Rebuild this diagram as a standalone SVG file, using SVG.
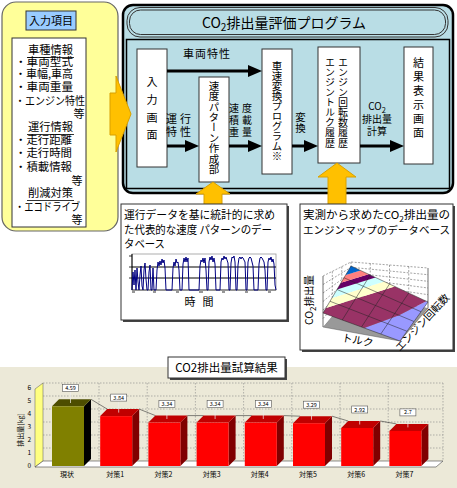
<svg xmlns="http://www.w3.org/2000/svg" width="457" height="488" viewBox="0 0 457 488">
<style>
text { font-family: "Noto Sans CJK JP", "Noto Sans", sans-serif; fill: #000; }
.f11 { font-size: 11px; }
.f10 { font-size: 10.5px; }
.st { font-size: 10px; }
.vt { writing-mode: vertical-rl; font-size: 10.5px; }
.node { fill: #fff; stroke: #333; stroke-width: 1; }
.arr { stroke: #000; stroke-width: 3; fill: none; marker-end: url(#ah); }
.gold { fill: #FFC000; stroke: #D9A000; stroke-width: 1; }
.tbox { fill: #fff; stroke: #333; stroke-width: 1; }
.shadow { fill: #444; }
.dash { stroke: #666; stroke-width: 0.6; stroke-dasharray: 2 1.5; fill: none; }
.grid { stroke: #888; stroke-width: 0.6; stroke-dasharray: 1.5 1.5; fill: none; }
.sgrid { stroke: #222; stroke-width: 0.5; fill: none; }
.lbl { font-size: 5.5px; }
.cat { font-size: 7px; fill: #222; }
.ytk { font-size: 6.5px; fill: #222; }
.vbox { fill: #fff; stroke: #555; stroke-width: 0.6; }
</style>
<defs>
<marker id="ah" viewBox="0 0 14 12" refX="6" refY="6" markerWidth="14" markerHeight="12" markerUnits="userSpaceOnUse" orient="auto">
<path d="M0,0 L14,6 L0,12 z" fill="#000"/>
</marker>
</defs>
<rect x="0" y="0" width="457" height="488" fill="#fff"/>

<!-- Input items panel -->
<g id="panel-input">
<rect x="2" y="2" width="116" height="229" rx="14" fill="#FFFF99" stroke="#666" stroke-width="1.2"/>
<rect x="26" y="11" width="50" height="19" fill="#99CCFF" stroke="#333" stroke-width="1"/>
<text x="51" y="25" class="f11" text-anchor="middle">入力項目</text>
<rect x="12" y="38" width="74" height="189" fill="#fff" stroke="#333" stroke-width="1"/>
<text x="50.5" y="54" class="f11" text-anchor="middle" textLength="45" lengthAdjust="spacingAndGlyphs">車種情報</text>
<line x1="27" y1="57.5" x2="74" y2="57.5" stroke="#000" stroke-width="0.8"/>
<text x="15" y="66" class="f11" textLength="58" lengthAdjust="spacingAndGlyphs">・車両型式</text>
<text x="15" y="78" class="f11" textLength="58" lengthAdjust="spacingAndGlyphs">・車幅,車高</text>
<text x="15" y="91" class="f11" textLength="58" lengthAdjust="spacingAndGlyphs">・車両重量</text>
<text x="15" y="105" class="f11" textLength="70" lengthAdjust="spacingAndGlyphs">・エンジン特性</text>
<text x="79" y="118" class="f11" text-anchor="middle">等</text>
<text x="50.5" y="131" class="f11" text-anchor="middle" textLength="45" lengthAdjust="spacingAndGlyphs">運行情報</text>
<line x1="27" y1="134.5" x2="74" y2="134.5" stroke="#000" stroke-width="0.8"/>
<text x="15" y="144" class="f11" textLength="57" lengthAdjust="spacingAndGlyphs">・走行距離</text>
<text x="15" y="157" class="f11" textLength="57" lengthAdjust="spacingAndGlyphs">・走行時間</text>
<text x="15" y="171" class="f11" textLength="57" lengthAdjust="spacingAndGlyphs">・積載情報</text>
<text x="77" y="185" class="f11" text-anchor="middle">等</text>
<text x="50.5" y="197" class="f11" text-anchor="middle" textLength="45" lengthAdjust="spacingAndGlyphs">削減対策</text>
<line x1="27" y1="200.5" x2="74" y2="200.5" stroke="#000" stroke-width="0.8"/>
<text x="15" y="211" class="f11" textLength="65" lengthAdjust="spacingAndGlyphs">・エコドライブ</text>
<text x="77" y="224" class="f11" text-anchor="middle">等</text>
</g>

<!-- CO2 evaluation program frame -->
<g id="program-frame">
<rect x="123" y="5" width="330" height="188" rx="10" fill="#B9DDE5" stroke="#000" stroke-width="2.5"/>
<rect x="126.5" y="39.5" width="323" height="149" fill="none" stroke="#000" stroke-width="1.5"/>
<rect x="127" y="7.5" width="321" height="29.5" rx="13" fill="#B9DDE5" stroke="#333" stroke-width="1"/>
<rect x="129.5" y="10" width="316" height="24.5" rx="11" fill="none" stroke="#333" stroke-width="1"/>
<text x="284" y="28" font-size="14" text-anchor="middle">CO<tspan font-size="10" dy="3">2</tspan><tspan dy="-3">排出量評価プログラム</tspan></text>
</g>

<!-- big input arrow -->
<g id="arrow-input">
<polygon class="gold" points="110,93 116,93 116,76 131,114 116,152 116,135 110,135"/>
</g>

<!-- nodes -->
<g id="node-input-screen">
<rect class="node" x="137" y="49" width="30" height="118"/>
<text x="152" y="76.5" class="vt" style="font-size:11px;letter-spacing:6.7px">入力画面</text>
</g>
<g id="node-speed-pattern">
<rect class="node" x="199" y="77" width="30" height="105"/>
<text x="214" y="80.5" class="vt" style="letter-spacing:-0.1px">速度パターン作成部</text>
</g>
<g id="node-speed-convert">
<rect class="node" x="262" y="49" width="30" height="125"/>
<text x="277" y="61" class="vt" style="letter-spacing:-0.5px">車速変換プログラム※</text>
</g>
<g id="node-engine-history">
<rect class="node" x="318" y="47" width="42" height="116"/>
<text x="343" y="57" class="vt" style="font-size:10px;letter-spacing:0.1px">エンジン回転数履歴</text>
<text x="330" y="57" class="vt" style="font-size:10px;letter-spacing:0.1px">エンジントルク履歴</text>
</g>
<g id="node-result">
<rect class="node" x="404" y="47" width="29" height="117"/>
<text x="418.5" y="57.5" class="vt" style="font-size:11px;letter-spacing:3px">結果表示画面</text>
</g>

<!-- connectors -->
<g id="connectors">
<line class="arr" x1="167" y1="71" x2="254" y2="71"/>
<line class="arr" x1="167" y1="146" x2="191" y2="146"/>
<line class="arr" x1="229" y1="146" x2="254" y2="146"/>
<line class="arr" x1="292" y1="146" x2="310" y2="146"/>
<line class="arr" x1="360" y1="146" x2="396" y2="146"/>
<text x="207" y="58" class="f11" text-anchor="middle" style="letter-spacing:1px">車両特性</text>
<text x="180" y="123" class="f11" text-anchor="middle" style="letter-spacing:3px">運行</text>
<text x="180" y="136" class="f11" text-anchor="middle" style="letter-spacing:3px">特性</text>
<text x="242" y="112" class="st" text-anchor="middle" style="letter-spacing:3px">速度</text>
<text x="242" y="124" class="st" text-anchor="middle" style="letter-spacing:3px">積載</text>
<text x="242" y="136" class="st" text-anchor="middle" style="letter-spacing:3px">重量</text>
<text x="300.5" y="111.5" class="vt" style="letter-spacing:0.5px">変換</text>
<text x="377" y="110" class="st" text-anchor="middle">CO<tspan font-size="7.5" dy="2.5">2</tspan></text>
<text x="377" y="123" class="st" text-anchor="middle">排出量</text>
<text x="377" y="135" class="st" text-anchor="middle">計算</text>
<polygon class="gold" points="213,182 230,194 222,194 222,206 204,206 204,194 196,194"/>
<polygon class="gold" points="337,163 356,177 346,177 346,206 328,206 328,177 318,177"/>
</g>

<!-- speed pattern database -->
<g id="node-speed-db">
<rect class="shadow" x="123" y="206" width="166" height="116"/>
<rect class="tbox" x="121" y="204" width="166" height="116"/>
<text x="124" y="219" class="f11" textLength="151" lengthAdjust="spacingAndGlyphs">運行データを基に統計的に求め</text>
<text x="124" y="234" class="f11" textLength="148" lengthAdjust="spacingAndGlyphs">た代表的な速度 パターンのデー</text>
<text x="124" y="248" class="f11" textLength="41" lengthAdjust="spacingAndGlyphs">タベース</text>
<rect x="132" y="254" width="144" height="36" fill="#fff" stroke="#999" stroke-width="0.8"/>
<line x1="132" y1="267" x2="276" y2="267" stroke="#000" stroke-width="1"/>
<line x1="132" y1="278" x2="276" y2="278" stroke="#000" stroke-width="1"/>
<line x1="132" y1="254" x2="132" y2="290" stroke="#000" stroke-width="1"/>
<line x1="132" y1="290" x2="276" y2="290" stroke="#333" stroke-width="0.8"/>
<path d="M129,256H132M129,267H132M129,278H132" stroke="#000" stroke-width="0.8"/>
<path d="M132,292h3M153,292h3M176,292h3M199,292h4M222,292h3M245,292h3M268,292h3" stroke="#333" stroke-width="1.2"/>
<polyline fill="none" stroke="#000080" stroke-width="1" points="132,290 133,272 134,285 135,270 136,290 137,268 138,282 139,290 140,275 141,266 142,286 143,290 144,270 145,263 146,279 147,290 148,290 149,272 150,265 151,290 152,290 153,268 154,290 156,290 157,270 158,262 159,266 160,261 161,265 162,259 163,263 164,260 165,268 166,290 168,290 172,290 173,268 174,262 175,266 176,259 177,263 178,262 179,270 180,290 182,290 183,264 184,258 185,262 186,257 187,262 188,258 189,290 199,290 200,266 201,260 202,262 203,258 204,263 205,258 206,270 207,290 208,290 209,262 210,257 211,260 212,256 213,262 214,258 215,264 216,290 220,290 221,262 222,258 223,260 224,256 225,259 226,257 227,260 228,263 229,290 230,290 231,263 232,257 233,258 234,256 235,262 236,290 237,290 238,265 239,258 240,257 241,259 242,257 243,258 244,260 245,262 246,290 247,290 248,262 249,258 250,257 251,258 252,262 253,266 254,290 258,290 259,264 260,258 261,257 262,258 263,260 264,262 265,270 266,290 267,290 268,262 269,258 270,260 271,257 272,262 273,259 274,264 275,285 276,290"/>
<text x="190" y="306" class="f11" text-anchor="middle">時</text>
<text x="208" y="306" class="f11" text-anchor="middle">間</text>
</g>

<!-- engine map database -->
<g id="node-engine-db">
<rect class="shadow" x="302" y="206" width="153" height="146"/>
<rect class="tbox" x="300" y="204" width="153" height="146"/>
<text x="303" y="219" class="f11" textLength="147" lengthAdjust="spacingAndGlyphs">実測から求めたCO<tspan font-size="8" dy="2.5">2</tspan><tspan dy="-2.5">排出量の</tspan></text>
<text x="303" y="234" class="f10" textLength="147" lengthAdjust="spacingAndGlyphs">エンジンマップのデータベース</text>
<polygon points="323,327 400,341 428,308 351,294" fill="#999" stroke="#555" stroke-width="0.5"/>
<polygon points="323,327 351,294 351,262 323,276" fill="#fff"/>
<polygon points="351,262 428,268 428,308 351,294" fill="#fff"/>
<path class="dash" d="M323,284.5L351,267.3M323,293L351,272.7M323,301.5L351,278M323,310L351,283.3M323,318.5L351,288.7M351,267.3L428,274.7M351,272.7L428,281.3M351,278L428,288M351,283.3L428,294.7M351,288.7L428,301.3M332.3,271.4V316.1M341.8,266.6V304.9M370.25,263.5V297.5M389.5,265V301M408.75,266.5V304.5M323,276L351,262L428,268M351,262V294"/>
<path d="M323,276V327M428,268V308" stroke="#333" stroke-width="0.7" fill="none"/>
<polygon points="364.3,328 400,341 428,302 426.2,301.2 399,315.3" fill="#9999FF"/>
<polygon points="323,313 364.3,328 399,315.3 426.2,301.2 394.7,286.5 326,308" fill="#993366"/>
<polygon points="326,308 394.7,286.5 384.3,281.5 332,297.9" fill="#FFFFCC"/>
<polygon points="332,297.9 384.3,281.5 375.5,277.5 337,289.5" fill="#CCFFFF"/>
<polygon points="337,289.5 375.5,277.5 368.5,274.2 341,282.8" fill="#660066"/>
<polygon points="341,282.8 368.5,274.2 360.5,270.4 345.6,275.1" fill="#FF8080"/>
<polygon points="345.6,275.1 360.5,270.4 351,266" fill="#0066CC"/>
<path class="sgrid" d="M342.25,320L356.25,297.5L370.25,275M361.5,327L375.5,305.5L389.5,284M380.75,334L394.75,313.5L408.75,293M330,301.25L368.5,316.25L407,331.25M337,289.5L375.5,305.5L414,321.5M344,277.75L382.5,294.75L421,311.75M323,313L400,341L428,302L351,266Z"/>
<text transform="translate(313,300) rotate(-90)" font-size="10.5" text-anchor="middle">CO<tspan font-size="8" dy="2.5">2</tspan><tspan dy="-2.5">排出量</tspan></text>
<text transform="translate(357,344) rotate(10)" font-size="10.5" text-anchor="middle">トルク</text>
<text transform="translate(425,325) rotate(-47)" font-size="10.5" text-anchor="middle">エンジン回転数</text>
</g>

<!-- result chart -->
<g id="chart-result">
<rect x="0" y="367" width="457" height="121" fill="#ECE9D8"/>
<polygon points="35,467 43,461 43,383 35,389" fill="#FFFF80" stroke="#555" stroke-width="0.5"/>
<path class="grid" d="M43,448H443M43,435H443M43,422H443M43,409H443M43,396H443M43,383H443M443,383V461M99,383V461M147.2,383V461M195.4,383V461M243.6,383V461M291.8,383V461M340,383V461M388.2,383V461"/>
<polygon points="35,467 43,461 443,461 436,467" fill="#fff" stroke="#444" stroke-width="0.6"/>
<g class="ytk" text-anchor="end">
<text x="31" y="468.3">0</text><text x="31" y="455.3">1</text><text x="31" y="442.3">2</text><text x="31" y="429.3">3</text><text x="31" y="416.3">4</text><text x="31" y="403.3">5</text><text x="31" y="390.3">6</text>
</g>
<text transform="translate(23,430) rotate(-90)" font-size="7" text-anchor="middle">排出量[kg]</text>
<path d="M91,399.3L107.2,409.1M139.2,409.1L155.4,415.6M187.4,415.6L203.6,415.6M235.6,415.6L251.8,415.6M283.8,415.6L300,416.2M332,416.2L348.2,421M380.2,421L396.4,423.9" stroke="#333" stroke-width="0.6" fill="none"/>
<!-- bars -->
<polygon points="84,406.3 91,399.3 91,459 84,466" fill="#000"/>
<polygon points="52,406.3 59,399.3 91,399.3 84,406.3" fill="#4D4D00"/>
<rect x="52" y="406.3" width="32" height="59.7" fill="#808000"/>
<polygon points="132.2,416.1 139.2,409.1 139.2,459 132.2,466" fill="#800000"/>
<polygon points="100.2,416.1 107.2,409.1 139.2,409.1 132.2,416.1" fill="#C00000"/>
<rect x="100.2" y="416.1" width="32" height="49.9" fill="#FF0000"/>
<polygon points="180.4,422.6 187.4,415.6 187.4,459 180.4,466" fill="#800000"/>
<polygon points="148.4,422.6 155.4,415.6 187.4,415.6 180.4,422.6" fill="#C00000"/>
<rect x="148.4" y="422.6" width="32" height="43.4" fill="#FF0000"/>
<polygon points="228.6,422.6 235.6,415.6 235.6,459 228.6,466" fill="#800000"/>
<polygon points="196.6,422.6 203.6,415.6 235.6,415.6 228.6,422.6" fill="#C00000"/>
<rect x="196.6" y="422.6" width="32" height="43.4" fill="#FF0000"/>
<polygon points="276.8,422.6 283.8,415.6 283.8,459 276.8,466" fill="#800000"/>
<polygon points="244.8,422.6 251.8,415.6 283.8,415.6 276.8,422.6" fill="#C00000"/>
<rect x="244.8" y="422.6" width="32" height="43.4" fill="#FF0000"/>
<polygon points="325,423.2 332,416.2 332,459 325,466" fill="#800000"/>
<polygon points="293,423.2 300,416.2 332,416.2 325,423.2" fill="#C00000"/>
<rect x="293" y="423.2" width="32" height="42.8" fill="#FF0000"/>
<polygon points="373.2,428 380.2,421 380.2,459 373.2,466" fill="#800000"/>
<polygon points="341.2,428 348.2,421 380.2,421 373.2,428" fill="#C00000"/>
<rect x="341.2" y="428" width="32" height="38" fill="#FF0000"/>
<polygon points="421.4,430.9 428.4,423.9 428.4,459 421.4,466" fill="#800000"/>
<polygon points="389.4,430.9 396.4,423.9 428.4,423.9 421.4,430.9" fill="#C00000"/>
<rect x="389.4" y="430.9" width="32" height="35.1" fill="#FF0000"/>
<!-- value labels -->
<path d="M70.5,391.3V403M118.7,401.1V412.6M166.9,407.6V419M215.1,407.6V419M263.3,407.6V419M311.5,408.2V419.7M359.7,413V424.5M407.9,415.9V427.4" stroke="#eee" stroke-width="0.7" fill="none"/>
<rect class="vbox" x="62.5" y="384.3" width="16" height="7"/>
<rect class="vbox" x="110.7" y="394.1" width="16" height="7"/>
<rect class="vbox" x="158.9" y="400.6" width="16" height="7"/>
<rect class="vbox" x="207.1" y="400.6" width="16" height="7"/>
<rect class="vbox" x="255.3" y="400.6" width="16" height="7"/>
<rect class="vbox" x="303.5" y="401.2" width="16" height="7"/>
<rect class="vbox" x="351.7" y="406" width="16" height="7"/>
<rect class="vbox" x="399.9" y="408.9" width="16" height="7"/>
<g class="lbl" text-anchor="middle">
<text x="70.5" y="389.8">4.59</text>
<text x="118.7" y="399.6">3.84</text>
<text x="166.9" y="406.1">3.34</text>
<text x="215.1" y="406.1">3.34</text>
<text x="263.3" y="406.1">3.34</text>
<text x="311.5" y="406.7">3.29</text>
<text x="359.7" y="411.5">2.92</text>
<text x="407.9" y="414.4">2.7</text>
</g>
<g class="cat" text-anchor="middle">
<text x="67" y="477">現状</text>
<text x="115.2" y="477">対策1</text>
<text x="163.4" y="477">対策2</text>
<text x="211.6" y="477">対策3</text>
<text x="259.8" y="477">対策4</text>
<text x="308" y="477">対策5</text>
<text x="356.2" y="477">対策6</text>
<text x="404.4" y="477">対策7</text>
</g>
<rect class="shadow" x="170" y="359" width="117" height="21"/>
<rect class="tbox" x="168" y="357" width="117" height="21"/>
<text x="226.5" y="372" font-size="11.5" text-anchor="middle">CO2排出量試算結果</text>
</g>
</svg>
